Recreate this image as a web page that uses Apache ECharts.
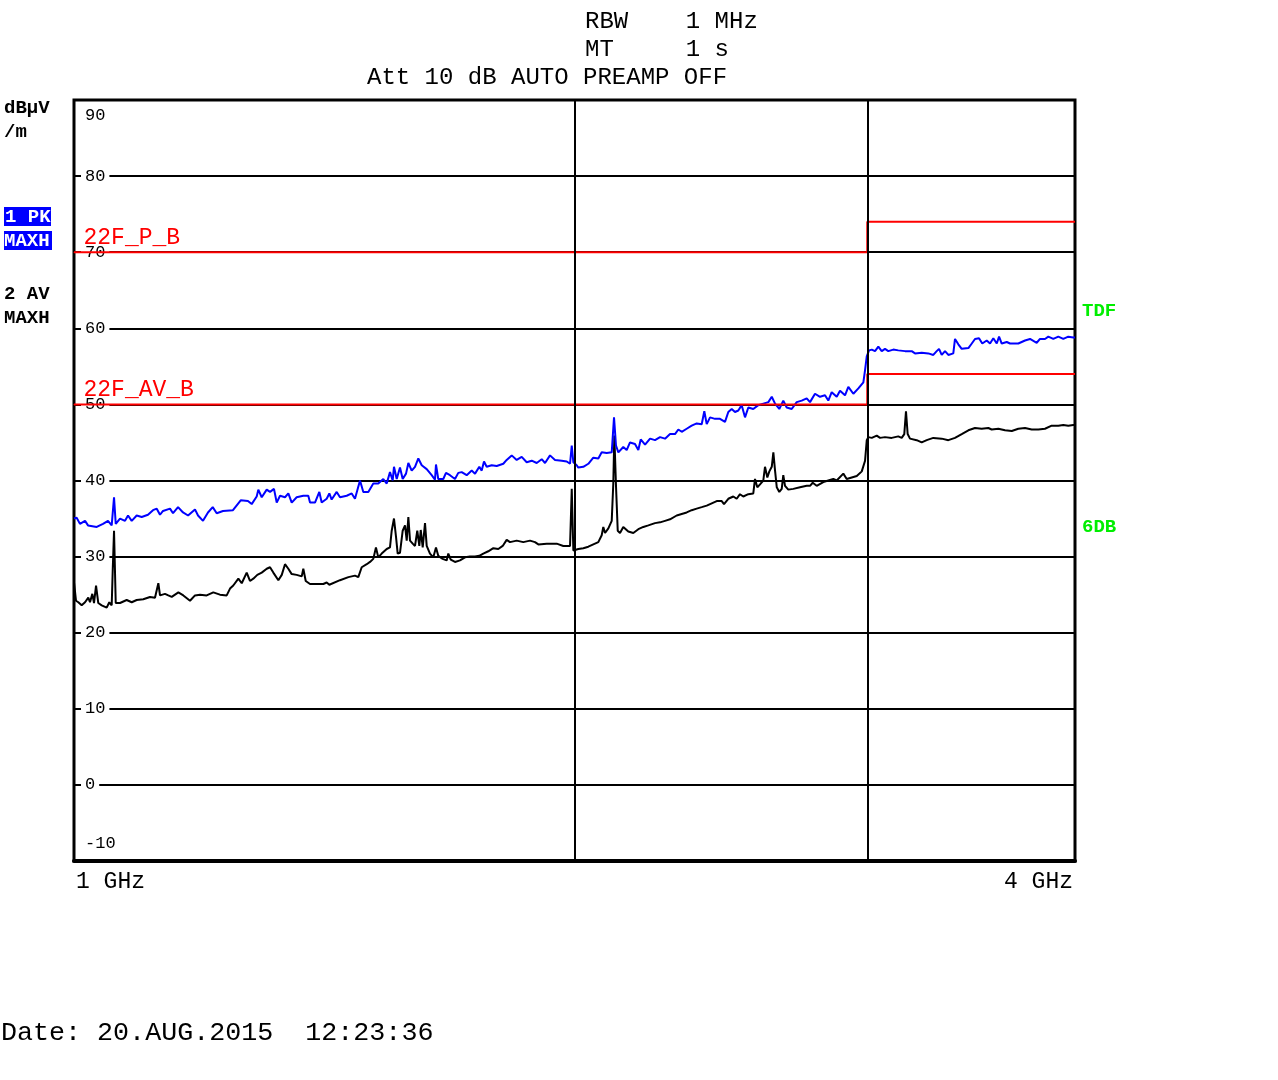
<!DOCTYPE html>
<html><head><meta charset="utf-8">
<script src="https://cdn.jsdelivr.net/npm/echarts@6/dist/echarts.min.js"></script>
<style>html,body{margin:0;padding:0;background:#fff}#c{width:1278px;height:1080px}</style>
</head><body><div id="c"></div>
<script>
// ---- DATA ----
// Trace 1: PK MAXH (blue) — frequency in GHz, level in dBµV/m
const pkFreq = [
1.0000,1.0037,1.0083,1.0154,1.0196,1.0320,1.0410,1.0482,1.0536,1.0570,
1.0595,1.0658,1.0732,1.0777,1.0832,1.0907,1.0983,1.1079,1.1156,1.1214,
1.1265,1.1312,1.1422,1.1470,1.1550,1.1630,1.1711,1.1824,1.1874,1.1956,
1.2039,1.2118,1.2185,1.2292,1.2463,1.2597,1.2724,1.2790,1.2879,1.2908,
1.2969,1.3059,1.3119,1.3191,1.3241,1.3302,1.3394,1.3456,1.3519,1.3612,
1.3738,1.3833,1.3866,1.3962,1.4046,1.4092,1.4190,1.4242,1.4288,1.4388,
1.4454,1.4589,1.4690,1.4757,1.4860,1.4928,1.5032,1.5136,1.5241,1.5347,
1.5420,1.5490,1.5548,1.5576,1.5635,1.5706,1.5765,1.5838,1.5889,1.5963,
1.6036,1.6110,1.6186,1.6298,1.6411,1.6486,1.6509,1.6561,1.6677,1.6739,
1.6832,1.6949,1.7027,1.7107,1.7226,1.7346,1.7426,1.7530,1.7588,1.7644,
1.7710,1.7833,1.7957,1.8122,1.8207,1.8334,1.8461,1.8590,1.8719,1.8849,
1.8980,1.9112,1.9200,1.9333,1.9467,1.9649,1.9786,1.9877,1.9924,1.9968,
2.0061,2.0106,2.0246,2.0387,2.0528,2.0671,2.0768,2.0913,2.1058,2.1125,
2.1183,2.1252,2.1398,2.1499,2.1598,2.1748,2.1848,2.1921,2.2053,2.2207,
2.2359,2.2515,2.2671,2.2829,2.2987,2.3093,2.3201,2.3362,2.3524,2.3688,
2.3853,2.3939,2.4019,2.4130,2.4296,2.4465,2.4635,2.4748,2.4865,2.4978,
2.5093,2.5211,2.5327,2.5443,2.5619,2.5797,2.5977,2.6159,2.6283,2.6403,
2.6559,2.6706,2.6832,2.7019,2.7207,2.7396,2.7586,2.7713,2.7905,2.8099,
2.8294,2.8424,2.8558,2.8757,2.8889,2.9089,2.9223,2.9427,2.9632,2.9838,
2.9908,2.9979,3.0074,3.0188,3.0323,3.0463,3.0606,3.0746,3.0887,3.1101,
3.1316,3.1609,3.1904,3.2050,3.2349,3.2648,3.2873,3.3028,3.3134,3.3258,
3.3411,3.3565,3.3796,3.3876,3.4032,3.4192,3.4510,3.4672,3.4827,3.5021,
3.5180,3.5396,3.5560,3.5722,3.5892,3.6007,3.6140,3.6393,3.6558,3.6980,
3.7325,3.7584,3.7934,3.8108,3.8372,3.8548,3.8816,3.9086,3.9357,3.9631,3.9906,4.0000
];
const pkLevel = [
35.0,35.1,34.3,34.7,34.1,33.9,34.3,34.7,34.1,37.8,
34.3,35.0,34.7,35.4,34.7,35.4,35.2,35.5,36.1,36.3,
35.5,36.0,36.3,35.7,36.5,35.8,35.4,36.2,35.4,34.7,
35.8,36.5,35.7,36.0,36.1,37.4,37.3,36.9,37.9,38.8,
37.8,38.8,38.5,38.9,37.1,38.0,37.8,38.3,37.1,37.8,
38.0,38.0,37.1,37.1,38.5,37.1,37.6,38.3,37.5,38.5,
37.8,38.0,38.3,37.6,40.0,38.5,38.5,39.6,39.6,40.2,
39.6,41.1,40.0,41.8,40.2,41.7,40.2,40.9,42.3,41.3,
41.8,42.9,42.0,41.5,40.7,40.1,42.1,40.2,40.2,41.0,
40.7,40.2,41.0,41.1,40.7,41.3,40.9,41.8,41.3,42.5,
41.8,42.0,41.9,42.2,42.7,43.3,42.7,43.1,42.4,42.6,
42.3,42.8,42.3,43.3,42.7,42.6,42.5,42.2,44.6,42.4,
42.0,41.7,41.8,42.2,43.0,42.9,43.7,43.6,43.7,48.3,
44.6,43.7,44.4,44.0,45.0,44.8,44.0,45.4,44.7,45.5,
45.3,45.7,45.5,46.1,46.1,46.7,46.4,46.8,47.2,47.5,
47.4,49.1,47.4,48.3,48.1,48.1,47.7,49.0,49.4,49.0,
49.2,49.9,48.3,49.6,49.4,49.9,50.1,50.3,51.0,50.1,
49.4,50.5,49.6,49.4,50.3,50.5,50.8,50.3,51.4,51.0,
51.2,50.5,51.6,51.0,51.8,51.2,52.3,51.4,52.1,52.9,
54.5,56.3,57.1,57.2,57.0,57.6,57.0,57.3,57.0,57.2,
57.1,57.0,57.0,56.7,56.8,56.7,56.5,57.0,57.3,56.5,
57.0,56.5,56.7,58.6,57.9,57.3,57.4,58.0,58.6,58.7,
58.0,58.4,58.0,58.7,58.0,58.9,58.0,58.2,58.0,58.0,
58.4,58.6,58.1,58.6,58.6,58.9,58.6,58.9,58.6,58.9,58.8,58.8
];
// Trace 2: AV MAXH (black)
const avFreq = [
1.0000,1.0028,1.0060,1.0107,1.0154,1.0200,1.0224,1.0257,1.0281,1.0310,
1.0342,1.0391,1.0463,1.0501,1.0536,1.0551,1.0570,1.0595,1.0658,1.0757,
1.0832,1.0907,1.1007,1.1110,1.1187,1.1239,1.1265,1.1343,1.1395,1.1449,
1.1555,1.1635,1.1743,1.1824,1.1907,1.2017,1.2128,1.2240,1.2355,1.2412,
1.2468,1.2556,1.2615,1.2702,1.2760,1.2819,1.2890,1.2969,1.3059,1.3119,
1.3179,1.3271,1.3334,1.3394,1.3456,1.3519,1.3612,1.3708,1.3738,1.3784,
1.3866,1.3996,1.4124,1.4190,1.4242,1.4454,1.4623,1.4757,1.4825,1.4895,
1.4999,1.5067,1.5136,1.5192,1.5241,1.5313,1.5420,1.5490,1.5527,1.5576,
1.5620,1.5656,1.5706,1.5765,1.5816,1.5853,1.5889,1.5926,1.5985,1.6036,
1.6087,1.6132,1.6164,1.6208,1.6260,1.6298,1.6372,1.6448,1.6509,1.6561,
1.6663,1.6755,1.6793,1.6849,1.6949,1.7067,1.7186,1.7305,1.7426,1.7530,
1.7627,1.7749,1.7873,1.7997,1.8107,1.8207,1.8291,1.8461,1.8631,1.8805,
1.8935,1.9023,1.9245,1.9513,1.9692,1.9877,1.9924,1.9968,2.0014,2.0106,
2.0246,2.0387,2.0528,2.0671,2.0768,2.0814,2.0864,2.0960,2.1058,2.1104,
2.1134,2.1183,2.1234,2.1301,2.1398,2.1547,2.1697,2.1848,2.2000,2.2154,
2.2359,2.2515,2.2671,2.2829,2.3041,2.3201,2.3362,2.3524,2.3688,2.3853,
2.4019,2.4186,2.4354,2.4524,2.4601,2.4748,2.4920,2.5037,2.5152,2.5267,
2.5443,2.5619,2.5680,2.5762,2.5859,2.5977,2.6038,2.6122,2.6195,2.6283,
2.6341,2.6403,2.6466,2.6559,2.6648,2.6706,2.6770,2.6892,2.7079,2.7331,
2.7586,2.7713,2.7817,2.7970,2.8228,2.8424,2.8622,2.8757,2.9021,2.9158,
2.9362,2.9567,2.9772,2.9908,2.9979,3.0044,3.0188,3.0396,3.0535,3.0746,
3.1031,3.1316,3.1464,3.1578,3.1652,3.1726,3.1829,3.2125,3.2349,3.2574,
3.2873,3.3258,3.3565,3.3876,3.4192,3.4510,3.4827,3.5150,3.5475,3.5640,
3.5972,3.6305,3.6646,3.6980,3.7325,3.7673,3.8022,3.8372,3.8728,3.9086,3.9357,3.9631,3.9906,4.0000
];
const avLevel = [
26.6,24.2,24.0,23.6,24.0,24.6,24.0,25.1,23.9,26.2,
23.9,23.6,23.3,24.0,23.6,28.2,33.4,23.9,23.9,24.3,
24.0,24.3,24.4,24.7,24.6,26.5,24.9,25.1,24.9,24.7,
25.3,24.9,24.2,24.9,25.0,24.9,25.3,25.0,24.9,25.8,
26.2,27.1,26.5,27.9,26.8,27.1,27.6,27.9,28.4,28.6,
27.9,26.9,27.6,29.0,28.4,27.7,27.6,27.4,28.4,26.8,
26.4,26.4,26.4,26.6,26.3,26.9,27.3,27.5,27.3,28.6,
29.0,29.3,29.7,31.2,29.9,30.4,31.0,31.2,33.4,35.0,
32.6,30.4,30.5,33.4,34.1,32.1,35.2,32.1,31.7,31.4,
33.4,31.4,33.5,31.2,34.4,31.4,30.4,29.9,31.2,30.1,
29.7,29.5,30.4,29.6,29.3,29.5,29.9,30.0,30.0,30.1,
30.4,30.7,31.1,31.0,31.4,32.2,31.9,32.1,31.9,32.1,
31.9,31.6,31.7,31.7,31.4,31.4,38.9,30.8,30.6,31.0,
31.1,31.3,31.6,31.9,32.8,33.9,33.1,33.7,34.7,39.6,
45.9,39.3,33.4,33.1,33.9,33.3,33.1,33.6,33.9,34.1,
34.4,34.5,34.7,34.9,35.4,35.6,35.8,36.1,36.3,36.5,
36.7,37.0,37.3,37.3,36.9,37.6,37.9,37.6,38.2,37.9,
38.2,38.3,40.2,39.1,39.5,40.0,41.8,40.4,41.2,41.8,
43.7,41.3,39.1,38.5,38.9,40.7,39.3,38.8,38.9,39.1,
39.3,39.3,39.7,39.3,39.8,40.0,40.2,40.0,40.9,40.2,
40.4,40.6,41.2,42.6,45.3,45.7,45.6,45.9,45.6,45.7,
45.6,45.8,45.6,46.1,49.1,46.1,45.5,45.3,45.0,45.3,
45.6,45.5,45.3,45.6,46.1,46.6,46.9,46.8,46.9,46.7,
46.8,46.6,46.5,46.8,46.9,46.7,46.7,46.8,47.2,47.2,47.3,47.2,47.3,47.3
];
// Limit lines
const limitPkFreq = [1, 3, 3, 4];
const limitPkLevel = [70, 70, 74, 74];
const limitAvFreq = [1, 3, 3, 4];
const limitAvLevel = [50, 50, 54, 54];
const limitNames = ['22F_P_B', '22F_AV_B'];
// Axes
const yMin = -10, yMax = 90, yStep = 10;
const freqMin = 1, freqMax = 4;
const freqGridLines = [2, 3];
const xEndLabels = ['1 GHz', '4 GHz'];

// ---- CHART ----
const MONO = '"Liberation Mono", "DejaVu Sans Mono", monospace';
const zip = (a, b) => a.map((v, i) => [v, b[i]]);

function limitSeries(name, fx, lv) {
  return {
    type: 'line', name: name, z: 4, symbol: 'none', silent: true,
    lineStyle: { color: '#ff0000', width: 2 }, itemStyle: { color: '#ff0000' },
    data: fx.map((f, i) => i === 0 ? {
      value: [f, lv[i]], symbol: 'circle', symbolSize: 1,
      label: { show: true, formatter: name, position: [10, -14], align: 'left', verticalAlign: 'middle',
               color: '#ff0000', fontFamily: MONO, fontSize: 23 }
    } : [f, lv[i]])
  };
}

const chart = echarts.init(document.getElementById('c'), null, { renderer: 'canvas' });
const labelText = (v) => v === yMax ? '{t|' + v + '}' : (v === yMin ? '{b|' + v + '}' : '{n|' + v + '}');

chart.setOption({
  animation: false,
  backgroundColor: '#ffffff',
  grid: { left: 74, top: 100, width: 1001, height: 761, show: true, borderColor: '#000', borderWidth: 3,
          containLabel: false, outerBoundsMode: 'none' },
  xAxis: [
    { type: 'log', logBase: 10, min: freqMin, max: freqMax, gridIndex: 0,
      axisLine: { show: true, onZero: false, lineStyle: { color: '#000', width: 4 } },
      axisTick: { show: false }, axisLabel: { show: false }, splitLine: { show: false } },
    { type: 'value', min: 0, max: 1, interval: 1, gridIndex: 0, position: 'bottom',
      axisLine: { show: false }, axisTick: { show: false }, splitLine: { show: false },
      axisLabel: { show: true, margin: 9, formatter: (v) => v === 0 ? '{l|' + xEndLabels[v] + '}' : '{r|' + xEndLabels[v] + '}',
                   color: '#000', fontFamily: MONO, fontSize: 23, alignMinLabel: 'left', alignMaxLabel: 'right',
                   showMinLabel: true, showMaxLabel: true,
                   rich: { l: { padding: [0, 0, 0, 2], fontFamily: MONO, fontSize: 23, color: '#000' },
                           r: { padding: [0, 2, 0, 0], fontFamily: MONO, fontSize: 23, color: '#000' } } } }
  ],
  yAxis: [
    { type: 'value', min: yMin, max: yMax, interval: yStep, gridIndex: 0, z: 0,
      axisLine: { show: false }, axisTick: { show: false }, axisLabel: { show: false },
      splitLine: { show: true, lineStyle: { color: '#000', width: 2 } } },
    { type: 'value', min: yMin, max: yMax, interval: yStep, gridIndex: 0, z: 1, position: 'left', offset: 0,
      axisLine: { show: false }, axisTick: { show: false }, splitLine: { show: false },
      axisLabel: { show: true, inside: true, margin: 7, formatter: labelText,
        rich: {
          n: { backgroundColor: '#ffffff', padding: [1, 4, 1, 4], color: '#000', fontFamily: MONO, fontSize: 17, lineHeight: 16 },
          t: { padding: [30, 0, 0, 4], color: '#000', fontFamily: MONO, fontSize: 17, lineHeight: 16 },
          b: { padding: [0, 0, 36, 4], color: '#000', fontFamily: MONO, fontSize: 17, lineHeight: 16 }
        } } }
  ],
  series: [
    { type: 'line', name: 'grid', z: 1, data: [], silent: true,
      markLine: { silent: true, symbol: 'none', animation: false, label: { show: false },
                  lineStyle: { color: '#000', width: 2, type: 'solid' },
                  data: freqGridLines.map(f => ({ xAxis: f })) } },
    limitSeries(limitNames[0], limitPkFreq, limitPkLevel),
    limitSeries(limitNames[1], limitAvFreq, limitAvLevel),
    { type: 'line', name: '2 AV MAXH', z: 3, symbol: 'none', silent: true,
      lineStyle: { color: '#000000', width: 2 }, data: zip(avFreq, avLevel) },
    { type: 'line', name: '1 PK MAXH', z: 3, symbol: 'none', silent: true,
      lineStyle: { color: '#0000ff', width: 2 }, data: zip(pkFreq, pkLevel) }
  ],
  graphic: [
    { type: 'text', x: 585, y: 22, style: { text: 'RBW    1 MHz', font: '24px ' + MONO, fill: '#000', textVerticalAlign: 'middle' } },
    { type: 'text', x: 585, y: 50, style: { text: 'MT     1 s', font: '24px ' + MONO, fill: '#000', textVerticalAlign: 'middle' } },
    { type: 'text', x: 367, y: 78, style: { text: 'Att 10 dB AUTO PREAMP OFF', font: '24px ' + MONO, fill: '#000', textVerticalAlign: 'middle' } },
    { type: 'text', x: 4, y: 108, style: { text: 'dBµV', font: 'bold 19px ' + MONO, fill: '#000', textVerticalAlign: 'middle' } },
    { type: 'text', x: 4, y: 132, style: { text: '/m', font: 'bold 19px ' + MONO, fill: '#000', textVerticalAlign: 'middle' } },
    { type: 'rect', shape: { x: 4, y: 207, width: 47, height: 19 }, style: { fill: '#0000ff' } },
    { type: 'rect', shape: { x: 4, y: 231, width: 48, height: 19 }, style: { fill: '#0000ff' } },
    { type: 'text', x: 5, y: 217, style: { text: '1 PK', font: 'bold 19px ' + MONO, fill: '#fff', textVerticalAlign: 'middle' } },
    { type: 'text', x: 4, y: 241, style: { text: 'MAXH', font: 'bold 19px ' + MONO, fill: '#fff', textVerticalAlign: 'middle' } },
    { type: 'text', x: 4, y: 294, style: { text: '2 AV', font: 'bold 19px ' + MONO, fill: '#000', textVerticalAlign: 'middle' } },
    { type: 'text', x: 4, y: 318, style: { text: 'MAXH', font: 'bold 19px ' + MONO, fill: '#000', textVerticalAlign: 'middle' } },
    { type: 'text', x: 1082, y: 311, style: { text: 'TDF', font: 'bold 19px ' + MONO, fill: '#00ee00', textVerticalAlign: 'middle' } },
    { type: 'text', x: 1082, y: 527, style: { text: '6DB', font: 'bold 19px ' + MONO, fill: '#00ee00', textVerticalAlign: 'middle' } },
    { type: 'text', x: 1, y: 1033, style: { text: 'Date: 20.AUG.2015  12:23:36', font: '26.7px ' + MONO, fill: '#000', textVerticalAlign: 'middle' } }
  ]
});
</script>
</body></html>
